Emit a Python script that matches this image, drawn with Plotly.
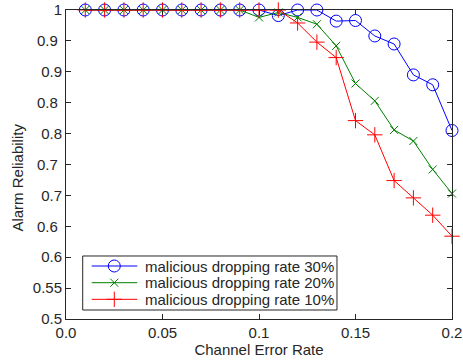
import plotly.graph_objects as go

x = [0.01, 0.02, 0.03, 0.04, 0.05, 0.06, 0.07, 0.08, 0.09, 0.10,
     0.11, 0.12, 0.13, 0.14, 0.15, 0.16, 0.17, 0.18, 0.19, 0.20]
rate30 = [1, 1, 1, 1, 1, 1, 1, 1, 1, 1,
          0.991, 1.0, 1.0, 0.982, 0.983, 0.958, 0.945, 0.895, 0.879, 0.805]
rate20 = [1, 1, 1, 1, 1, 1, 1, 1, 1, 0.988,
          0.996, 0.988, 0.977, 0.942, 0.881, 0.853, 0.806, 0.788, 0.742, 0.703]
rate10 = [1, 1, 1, 1, 1, 1, 1, 1, 1, 1,
          1.0, 0.979, 0.948, 0.923, 0.821, 0.798, 0.724, 0.696, 0.668, 0.634]

names = ["malicious dropping rate 30%", "malicious dropping rate 20%", "malicious dropping rate 10%"]
colors = ["#0000FF", "#008000", "#FF0000"]
symbols = ["circle-open", "x-thin-open", "cross-thin-open"]
msizes = [12, 8, 11]
xtick_vals = [0, 0.05, 0.1, 0.15, 0.2]
xtick_text = ["0.0", "0.05", "0.1", "0.15", "0.2"]
ytick_vals = [0.5, 0.55, 0.6, 0.65, 0.7, 0.75, 0.8, 0.85, 0.9, 0.95, 1.0]
ytick_text = ["0.5", "0.55", "0.6", "0.6\u00a0", "0.7", "0.7\u00a0", "0.8", "0.8\u00a0", "0.9", "0.9\u00a0", "1"]

font = "Liberation Sans, Arial, Helvetica, sans-serif"
ink = "#262626"

fig = go.Figure()
for yv, nm, c, s, ms in zip([rate30, rate20, rate10], names, colors, symbols, msizes):
    fig.add_trace(go.Scatter(x=x, y=yv, name=nm, mode="lines+markers", cliponaxis=False,
                             showlegend=False,
                             line=dict(color=c, width=1),
                             marker=dict(symbol=s, size=ms, color=c, line=dict(width=1))))

# Legend (drawn manually to match the compact MATLAB-style legend)
leg_x0, leg_x1, leg_y0, leg_y1 = 0.0433, 0.702, 0.0291, 0.2039
row_y = [0.1715, 0.1175, 0.0637]
line_x0, line_x1, mark_x, text_x = 0.0666, 0.1847, 0.1251, 0.1987
fig.add_shape(type="rect", xref="paper", yref="paper", x0=leg_x0, x1=leg_x1, y0=leg_y0, y1=leg_y1,
              line=dict(color=ink, width=1), fillcolor="white", layer="below")
for ry, nm, c, s, ms in zip(row_y, names, colors, symbols, msizes):
    fig.add_shape(type="line", xref="paper", yref="paper", x0=line_x0, x1=line_x1, y0=ry, y1=ry,
                  line=dict(color=c, width=1), layer="below")
    fig.add_trace(go.Scatter(x=[mark_x], y=[ry], xaxis="x2", yaxis="y2", mode="markers",
                             showlegend=False, hoverinfo="skip", cliponaxis=False,
                             marker=dict(symbol=s, size=ms, color=c, line=dict(width=1))))
    fig.add_annotation(x=text_x, y=ry, xref="paper", yref="paper", text=nm, showarrow=False,
                       xanchor="left", yanchor="middle", font=dict(size=15, color=ink))

# y-axis title (placed as in the reference, slightly below the axis centre)
fig.add_annotation(x=-0.1256, y=0.456, xref="paper", yref="paper", text="Alarm Reliability",
                   textangle=-90, showarrow=False, xanchor="center", yanchor="middle",
                   font=dict(size=15, color=ink))

fig.update_layout(
    width=463, height=364,
    margin=dict(l=66, r=11, t=10, b=45, autoexpand=False),
    paper_bgcolor="white", plot_bgcolor="white",
    font=dict(family=font, size=15, color=ink),
    showlegend=False,
    xaxis=dict(range=[0, 0.2], tickvals=xtick_vals, ticktext=xtick_text,
               ticks="inside", ticklen=5, tickcolor=ink, automargin=False,
               ticklabeloverflow="allow",
               showline=True, linecolor=ink, linewidth=1, mirror="ticks",
               showgrid=False, zeroline=False,
               title=dict(text="Channel Error Rate", standoff=4, font=dict(size=15, color=ink))),
    yaxis=dict(range=[0.5, 1.0], tickvals=ytick_vals, ticktext=ytick_text,
               ticks="inside", ticklen=5, tickcolor=ink, automargin=False,
               ticklabeloverflow="allow",
               showline=True, linecolor=ink, linewidth=1, mirror="ticks",
               showgrid=False, zeroline=False),
    xaxis2=dict(overlaying="x", range=[0, 1], visible=False, fixedrange=True),
    yaxis2=dict(overlaying="y", range=[0, 1], visible=False, fixedrange=True),
)

fig.write_html("out.html", config={"displayModeBar": False},
               post_script="document.body.style.margin='0';")
